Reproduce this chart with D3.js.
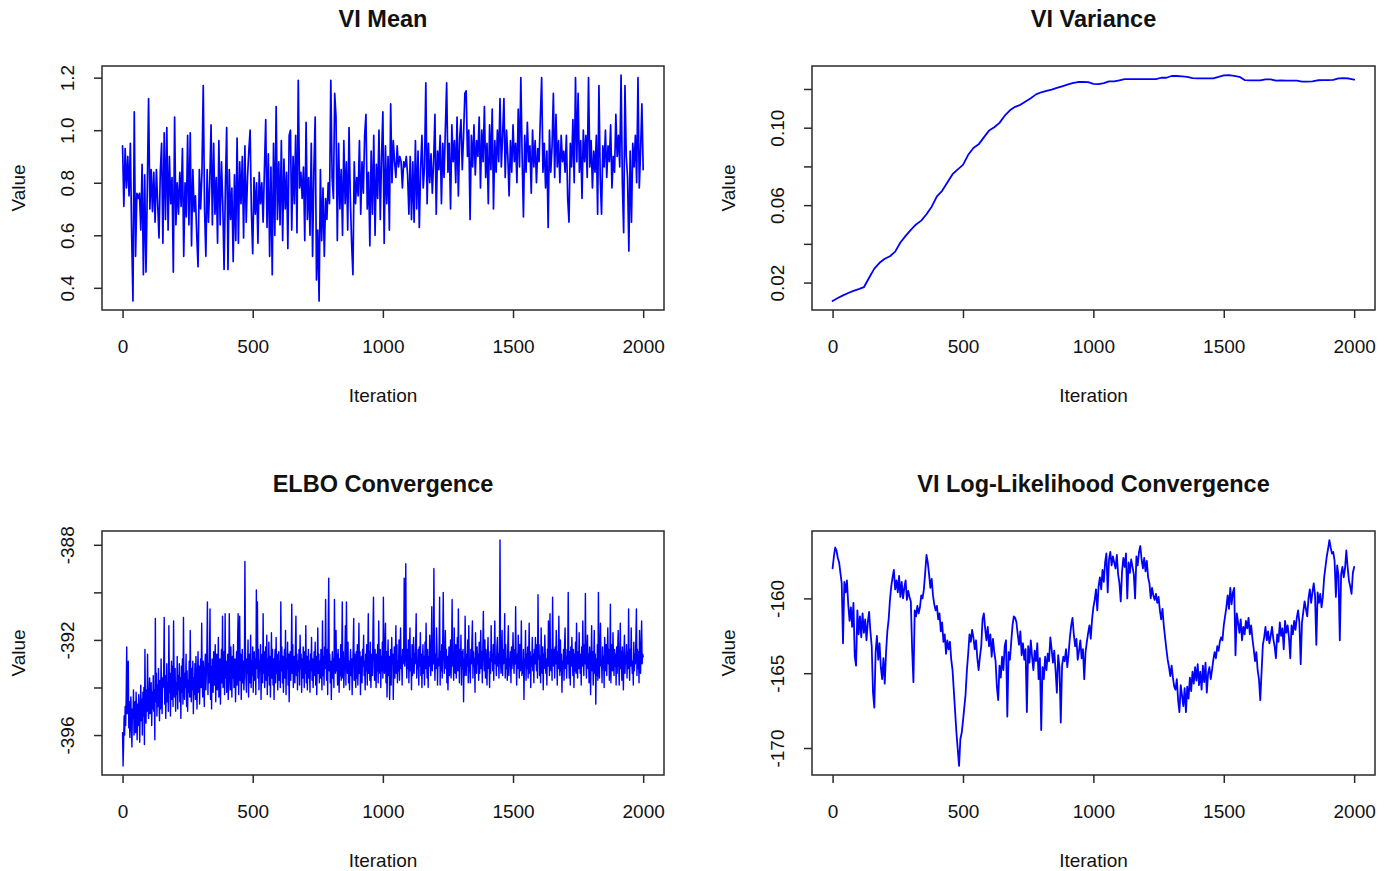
<!DOCTYPE html>
<html>
<head>
<meta charset="utf-8">
<script src="https://cdn.jsdelivr.net/npm/d3@7"></script>
<style>
  body { margin: 0; background: #fff; }
  text { font-family: "Liberation Sans", Arial, sans-serif; fill: #111; }
</style>
</head>
<body>
<svg id="chart" width="1384" height="871"></svg>
<script>
// ---------------- DATA ----------------
const xTickValues = [0, 500, 1000, 1500, 2000];
const meanStep = 5;       // iterations between stored samples
const varianceStep = 20;
const elboStep = 2;
const logLikStep = 5;

const viMean = [
  0.94,0.71,0.93,0.78,0.9,0.75,0.95,0.6,0.35,1.07,
  0.52,0.76,0.74,0.76,0.62,0.87,0.45,0.83,0.46,0.77,
  1.12,0.7,0.85,0.69,0.84,0.65,0.85,0.72,0.59,0.84,
  0.95,0.57,0.99,0.66,1.01,0.62,0.9,0.72,0.82,0.46,
  1.05,0.64,0.8,0.68,0.84,0.71,0.93,0.52,0.8,0.67,
  0.98,0.64,0.99,0.56,0.85,0.69,0.75,0.6,0.48,0.85,
  0.7,0.84,1.17,0.7,0.52,0.85,0.65,0.8,1.02,0.64,
  0.95,0.68,0.82,0.57,0.96,0.64,0.88,0.72,0.47,0.78,
  1.01,0.47,0.85,0.66,0.78,0.5,0.83,0.58,0.97,0.57,
  0.88,0.72,0.9,0.59,0.94,0.65,0.82,0.92,1.0,0.69,
  0.53,0.82,0.68,0.8,0.57,0.84,0.72,0.8,0.65,0.85,
  1.04,0.63,0.91,0.52,0.86,0.45,0.95,0.6,1.09,0.66,
  0.88,0.64,0.96,0.58,0.89,0.7,0.84,0.55,0.98,1.0,
  0.62,0.9,0.72,0.98,0.61,1.19,0.78,0.84,0.74,0.86,
  0.58,1.03,0.66,0.82,0.6,0.95,0.52,0.85,1.05,0.43,
  0.62,0.35,0.85,0.58,0.78,0.52,0.74,0.66,0.8,0.72,
  1.19,0.82,0.74,1.14,1.05,0.58,0.95,0.7,0.85,0.6,
  0.96,0.72,0.88,0.62,1.01,0.74,0.57,0.45,0.88,0.72,
  0.82,0.75,0.96,0.68,0.88,0.76,0.98,1.06,0.7,0.84,
  0.56,0.92,0.68,0.98,0.6,0.87,0.74,1.0,0.66,0.9,
  1.07,0.57,0.94,0.72,0.9,0.62,1.1,0.8,0.96,0.88,
  0.82,0.94,0.86,0.9,0.88,0.78,0.88,0.86,0.9,0.83,
  0.68,0.9,0.66,0.88,0.65,0.96,0.7,0.92,0.63,0.85,
  0.98,0.78,0.86,1.18,0.72,0.95,0.8,0.91,0.76,0.88,
  1.06,0.68,0.92,0.85,0.98,0.72,0.95,0.82,1.0,1.18,
  0.84,0.95,0.7,1.02,0.88,0.96,0.8,1.05,0.75,0.97,
  1.04,0.85,0.98,1.14,1.15,0.9,1.0,0.66,0.98,0.86,
  1.02,0.83,0.96,0.9,1.05,0.78,1.0,0.88,1.09,0.82,
  0.95,0.72,1.02,0.85,1.08,0.7,0.96,0.84,1.0,0.88,
  1.12,0.86,0.98,1.12,0.82,1.0,0.9,0.75,0.96,0.84,
  1.02,0.88,0.95,0.8,1.08,0.86,1.2,0.9,0.67,0.98,
  0.84,1.03,0.88,0.94,0.76,1.0,0.86,0.96,0.8,0.93,
  0.88,1.05,1.2,0.84,0.95,0.78,0.92,0.63,1.0,0.84,
  0.94,1.14,0.82,1.06,0.86,0.96,0.8,0.98,0.88,0.92,
  0.84,0.98,0.74,0.65,0.95,0.86,1.04,0.8,1.2,0.88,
  1.14,0.84,0.96,0.74,1.0,0.88,0.98,0.82,1.2,0.86,
  0.96,0.78,0.92,0.84,0.98,0.68,1.17,0.82,0.68,0.94,
  0.86,1.0,0.82,0.94,0.88,1.02,0.78,0.9,0.84,1.06,
  0.9,0.98,0.86,1.21,0.8,0.61,1.17,0.9,0.82,0.54,
  0.92,0.65,0.95,0.86,0.98,0.8,1.2,0.78,0.92,1.1,
  0.85
];

const viVariance = [
  0.0105,0.0120,0.0134,0.0146,0.0157,0.0166,0.0176,0.0225,0.0272,0.0302,
  0.0323,0.0336,0.0360,0.0407,0.0441,0.0472,0.0500,0.0520,0.0553,0.0592,
  0.0645,0.0674,0.0717,0.0760,0.0785,0.0808,0.0860,0.0895,0.0914,0.0950,
  0.0985,0.1002,0.1025,0.1062,0.1090,0.1108,0.1118,0.1135,0.1152,0.1172,
  0.1183,0.1190,0.1197,0.1206,0.1214,0.1222,0.1230,0.1236,0.1236,0.1235,
  0.1226,0.1225,0.1230,0.1239,0.1239,0.1245,0.1251,0.1251,0.1251,0.1251,
  0.1251,0.1251,0.1251,0.1258,0.1258,0.1267,0.1267,0.1265,0.1263,0.1256,
  0.1255,0.1255,0.1255,0.1255,0.1262,0.1270,0.1272,0.1268,0.1263,0.1246,
  0.1244,0.1244,0.1244,0.1250,0.1250,0.1243,0.1244,0.1243,0.1243,0.1243,
  0.1238,0.1238,0.1239,0.1245,0.1246,0.1246,0.1247,0.1255,0.1256,0.1254,
  0.1248
];

const elbo = [
  -395.9,-397.3,-396.4,-395.2,-396.0,-394.8,-395.6,-394.3,-392.3,-395.1,
  -394.5,-392.9,-395.7,-394.6,-396.1,-395.0,-394.4,-395.8,-396.5,-394.9,
  -395.3,-394.1,-396.0,-395.4,-394.6,-395.9,-394.2,-395.1,-396.2,-394.7,
  -395.6,-394.3,-395.0,-396.3,-394.8,-393.9,-395.4,-394.5,-396.0,-394.2,
  -395.2,-394.0,-396.4,-392.4,-394.9,-395.5,-394.1,-395.0,-392.6,-394.6,
  -395.3,-394.4,-393.6,-395.1,-394.7,-393.8,-395.6,-394.2,-394.9,-393.5,
  -395.0,-394.1,-396.2,-391.1,-394.6,-393.4,-395.2,-393.9,-394.8,-393.2,
  -394.5,-395.4,-393.7,-394.9,-392.8,-394.3,-395.1,-393.6,-394.0,-393.3,
  -391.05,-394.7,-393.5,-395.3,-394.1,-393.0,-394.6,-393.8,-395.0,-391.4,
  -394.2,-393.4,-395.2,-393.9,-392.9,-394.5,-393.1,-394.8,-391.2,-393.7,
  -394.4,-393.2,-395.0,-393.8,-394.3,-392.7,-394.9,-393.5,-394.1,-393.0,
  -394.6,-393.6,-395.3,-393.1,-394.2,-392.8,-394.7,-391.05,-393.9,-394.5,
  -393.4,-394.0,-392.6,-394.8,-393.3,-395.0,-393.7,-394.2,-392.9,-394.4,
  -391.6,-393.8,-394.6,-393.2,-394.1,-392.9,-395.1,-393.6,-394.3,-393.0,
  -394.5,-392.7,-393.9,-394.9,-393.4,-392.5,-394.2,-393.1,-394.7,-393.5,
  -392.8,-394.0,-391.3,-393.6,-394.4,-392.9,-393.7,-394.8,-393.2,-392.6,
  -394.1,-393.4,-392.4,-390.4,-394.3,-393.0,-393.8,-392.7,-390.7,-394.5,
  -393.1,-394.9,-392.8,-393.6,-394.2,-392.5,-393.9,-393.3,-392.2,-394.6,
  -393.0,-392.6,-394.1,-393.5,-391.9,-394.4,-393.2,-392.8,-394.7,-393.4,
  -392.4,-393.8,-391.0,-394.0,-393.1,-392.5,-394.3,-390.9,-393.6,-392.9,
  -394.2,-393.3,-392.6,-394.5,-393.7,-390.9,-393.0,-394.1,-392.3,-393.5,
  -394.4,-392.7,-393.6,-392.2,-394.0,-393.2,-392.8,-394.6,-393.4,-392.5,
  -393.9,-392.1,-390.9,-394.3,-393.0,-391.0,-393.7,-392.6,-394.5,-393.3,
  -392.4,-393.8,-392.9,-394.1,-393.5,-388.7,-392.3,-393.6,-394.2,-392.8,
  -393.4,-392.0,-394.4,-393.1,-392.6,-393.8,-391.8,-394.0,-392.9,-393.5,
  -392.3,-394.2,-393.0,-392.5,-393.7,-392.8,-394.3,-389.9,-393.2,-390.4,
  -393.6,-392.4,-394.1,-392.9,-393.3,-392.2,-394.5,-393.0,-392.6,-393.8,
  -390.9,-393.4,-392.5,-394.0,-393.1,-392.3,-393.7,-391.8,-394.3,-392.8,
  -393.5,-392.1,-393.9,-392.7,-394.4,-393.2,-391.7,-393.6,-392.4,-393.9,
  -392.8,-394.5,-393.0,-392.4,-393.8,-391.9,-393.4,-392.6,-394.1,-393.2,
  -392.5,-393.7,-392.9,-394.0,-390.4,-393.3,-392.3,-393.8,-392.7,-394.2,
  -393.0,-392.4,-393.6,-391.6,-394.3,-392.8,-393.2,-392.1,-393.9,-392.6,
  -394.6,-393.1,-392.5,-393.7,-392.9,-390.5,-393.4,-392.2,-394.0,-393.0,
  -392.7,-393.8,-392.3,-391.0,-393.5,-392.6,-394.1,-392.9,-393.3,-392.4,
  -393.9,-391.8,-393.2,-392.6,-394.2,-392.8,-393.6,-392.3,-393.0,-394.0,
  -392.5,-393.4,-391.4,-393.8,-392.7,-394.1,-393.1,-392.4,-393.6,-392.9,
  -394.2,-392.6,-393.3,-391.9,-393.7,-392.8,-394.0,-393.2,-392.5,-393.5,
  -392.1,-393.9,-392.7,-394.3,-393.0,-391.5,-393.4,-392.6,-393.8,-392.9,
  -393.6,-392.4,-393.1,-394.1,-391.2,-393.5,-392.7,-393.9,-392.3,-393.2,
  -390.3,-392.8,-393.7,-392.4,-394.3,-391.7,-389.4,-393.3,-392.6,-393.8,
  -392.9,-394.5,-393.2,-392.5,-393.6,-392.8,-394.0,-390.3,-392.7,-393.4,
  -391.6,-393.3,-392.6,-393.9,-392.4,-393.1,-394.2,-392.8,-393.5,-392.2,
  -393.7,-392.9,-390.4,-393.6,-392.5,-394.0,-393.2,-392.7,-391.4,-393.9,
  -390.4,-392.6,-393.4,-392.1,-393.8,-392.9,-394.1,-393.0,-392.4,-393.5,
  -392.8,-394.3,-393.1,-392.3,-391.1,-393.7,-392.6,-393.3,-394.0,-392.5,
  -393.6,-392.2,-393.9,-392.8,-391.3,-393.4,-392.5,-394.3,-393.0,-392.7,
  -393.8,-392.4,-393.1,-391.8,-393.5,-392.9,-394.1,-392.6,-393.3,-392.2,
  -393.9,-392.7,-390.9,-393.4,-392.5,-393.7,-392.1,-394.0,-393.2,-392.6,
  -393.5,-391.6,-390.2,-392.8,-393.7,-392.4,-393.1,-394.0,-392.6,-393.3,
  -392.2,-393.8,-391.2,-392.9,-393.4,-392.4,-394.0,-392.7,-393.3,-392.1,
  -393.6,-390.2,-392.6,-393.4,-392.3,-391.3,-393.8,-392.5,-394.4,-393.1,
  -392.0,-393.5,-392.7,-394.5,-393.2,-392.4,-393.9,-391.9,-393.0,-392.6,
  -394.5,-393.1,-392.3,-393.6,-392.8,-391.4,-393.4,-392.2,-393.8,-392.9,
  -393.3,-392.0,-393.7,-392.5,-391.5,-393.2,-392.7,-393.9,-392.4,-393.0,
  -392.6,-389.4,-393.1,-392.3,-388.8,-392.9,-393.6,-392.4,-393.2,-392.0,
  -393.8,-392.5,-391.5,-393.3,-392.8,-394.1,-392.2,-393.5,-392.7,-391.9,
  -393.4,-392.6,-393.0,-392.1,-390.9,-393.6,-392.8,-393.2,-392.4,-393.9,
  -392.3,-393.1,-391.7,-393.5,-392.6,-394.0,-392.9,-392.2,-393.4,-392.7,
  -393.9,-392.1,-393.2,-391.3,-392.8,-393.6,-392.4,-394.0,-392.7,-393.1,
  -391.8,-392.9,-393.5,-392.2,-390.6,-393.3,-392.6,-393.0,-389.0,-392.5,
  -393.7,-392.6,-393.2,-391.5,-392.4,-393.9,-392.8,-393.1,-392.3,-390.2,
  -393.9,-392.5,-393.3,-392.2,-393.6,-392.0,-390.0,-392.7,-393.4,-392.6,
  -391.6,-393.2,-392.4,-393.8,-392.7,-394.1,-393.0,-392.3,-393.5,-392.8,
  -392.0,-393.6,-392.5,-390.3,-393.1,-392.8,-393.7,-391.5,-392.9,-393.4,
  -392.2,-393.6,-392.9,-391.9,-393.3,-390.7,-392.6,-393.8,-392.4,-393.1,
  -391.8,-393.9,-392.5,-393.2,-392.4,-394.6,-392.8,-393.5,-391.0,-392.7,
  -393.5,-392.6,-393.1,-392.0,-393.8,-391.4,-392.9,-393.3,-393.8,-392.4,
  -393.0,-392.1,-391.2,-393.6,-392.5,-393.1,-392.8,-394.2,-391.7,-392.9,
  -393.4,-392.3,-393.0,-392.6,-393.7,-392.1,-393.4,-392.8,-391.6,-393.2,
  -392.5,-393.8,-392.3,-390.8,-392.7,-393.3,-392.0,-393.6,-392.4,-393.1,
  -393.9,-392.6,-391.9,-393.2,-392.8,-394.0,-392.5,-393.4,-391.4,-392.9,
  -392.6,-393.3,-392.2,-393.7,-392.4,-391.2,-393.0,-392.7,-393.5,-392.3,
  -391.9,-393.1,-392.6,-393.6,-392.2,-387.8,-392.9,-393.4,-392.5,-391.6,
  -393.5,-392.4,-393.0,-392.7,-390.9,-393.6,-392.2,-393.2,-392.8,-393.7,
  -392.2,-391.4,-393.5,-392.8,-393.1,-392.5,-393.8,-392.3,-393.2,-392.7,
  -391.7,-392.9,-393.4,-392.4,-393.0,-390.6,-392.7,-393.9,-392.6,-393.2,
  -391.8,-392.5,-393.6,-392.2,-393.3,-392.8,-391.2,-393.5,-392.9,-393.4,
  -392.4,-394.5,-392.8,-393.1,-391.6,-393.7,-392.6,-393.2,-392.3,-393.6,
  -392.8,-391.3,-393.4,-392.5,-394.0,-392.7,-393.1,-391.9,-393.3,-392.6,
  -393.8,-392.4,-393.0,-391.9,-392.7,-393.3,-392.2,-393.6,-390.1,-392.8,
  -392.2,-393.5,-392.7,-393.8,-391.5,-392.9,-393.4,-392.3,-394.1,-392.6,
  -393.2,-391.8,-392.6,-393.4,-392.8,-393.9,-392.4,-393.1,-391.2,-392.7,
  -393.5,-390.9,-392.8,-393.3,-392.4,-393.7,-390.2,-392.6,-393.1,-392.4,
  -393.6,-392.3,-393.0,-391.6,-392.7,-393.9,-392.5,-393.2,-391.0,-392.8,
  -393.5,-392.0,-393.3,-392.6,-394.2,-392.9,-393.1,-392.4,-393.7,-392.2,
  -391.5,-393.2,-392.7,-393.6,-392.4,-393.0,-390.0,-392.7,-393.6,-392.5,
  -393.9,-392.3,-393.1,-391.9,-392.8,-393.5,-392.4,-394.0,-392.6,-393.3,
  -392.1,-393.4,-391.3,-392.9,-393.6,-392.5,-393.2,-391.7,-392.8,-393.4,
  -392.6,-393.9,-392.3,-393.1,-391.2,-392.7,-393.5,-392.2,-393.0,-390.05,
  -392.8,-393.6,-392.4,-391.8,-393.2,-392.6,-393.8,-392.3,-392.9,-394.3,
  -392.7,-391.4,-393.3,-392.5,-393.9,-392.9,-391.6,-393.4,-392.6,-394.7,
  -392.8,-393.5,-392.2,-393.7,-390.0,-392.5,-393.6,-392.4,-391.3,-393.1,
  -392.8,-393.8,-392.3,-393.2,-392.7,-394.0,-391.9,-392.6,-393.3,-392.2,
  -393.5,-392.6,-391.5,-393.0,-392.4,-393.7,-392.9,-390.5,-393.8,-392.5,
  -392.2,-393.3,-391.7,-392.8,-393.5,-392.4,-393.1,-392.6,-393.9,-392.3,
  -393.4,-392.4,-391.6,-393.0,-393.9,-392.8,-391.3,-393.2,-392.5,-393.7,
  -392.3,-393.1,-394.1,-392.6,-391.8,-393.4,-392.7,-393.0,-392.2,-393.6,
  -392.5,-393.2,-390.7,-392.9,-393.7,-392.4,-393.1,-391.5,-392.8,-393.4,
  -392.9,-393.9,-392.1,-393.3,-392.6,-393.0,-391.9,-390.7,-393.5,-392.4,
  -393.2,-392.5,-393.8,-391.6,-392.7,-393.4,-392.3,-391.2,-393.0,-392.6,
  -392.7
];

const logLik = [
  -158.0,-157.2,-156.6,-156.8,-157.3,-157.6,-158.3,-159.0,-163.0,-158.9,
  -159.6,-158.8,-160.4,-161.5,-160.6,-161.9,-160.3,-163.9,-164.5,-160.8,
  -162.4,-161.2,-162.6,-161.0,-162.3,-161.4,-162.8,-161.6,-160.9,-162.2,
  -163.2,-166.3,-167.3,-163.6,-162.5,-164.1,-163.0,-164.6,-165.4,-164.0,
  -165.7,-163.6,-162.2,-161.4,-160.1,-159.2,-158.6,-158.1,-159.4,-158.8,
  -159.6,-158.5,-159.9,-158.9,-160.0,-159.3,-158.8,-160.1,-159.5,-159.9,
  -160.2,-163.4,-165.6,-160.8,-161.2,-160.5,-161.0,-160.6,-159.8,-160.0,
  -159.4,-158.3,-157.1,-157.6,-158.4,-159.3,-158.7,-159.8,-160.4,-160.8,
  -160.5,-161.4,-161.0,-162.2,-161.6,-162.9,-162.4,-163.7,-162.8,-163.4,
  -162.9,-164.1,-164.8,-166.2,-167.6,-169.0,-170.1,-171.2,-169.4,-169.0,
  -168.2,-167.3,-166.4,-164.8,-163.7,-162.4,-162.9,-162.1,-162.6,-163.4,
  -162.8,-164.0,-164.8,-163.9,-163.2,-161.4,-161.0,-162.0,-162.8,-161.9,
  -163.2,-162.4,-163.9,-162.7,-163.6,-164.2,-165.9,-166.8,-164.5,-165.3,
  -163.9,-164.8,-163.2,-162.8,-167.9,-163.6,-164.1,-162.9,-161.8,-161.2,
  -161.3,-161.6,-162.4,-163.1,-162.2,-163.8,-163.0,-164.1,-163.4,-167.6,
  -163.2,-164.3,-162.8,-163.9,-164.8,-163.5,-164.2,-163.0,-165.4,-164.0,
  -168.8,-164.6,-165.4,-163.9,-164.8,-163.7,-164.2,-162.6,-163.4,-164.3,
  -163.5,-164.8,-166.3,-163.8,-164.6,-168.3,-164.5,-163.9,-164.2,-163.4,
  -164.6,-163.7,-162.6,-161.8,-161.3,-162.4,-163.2,-162.7,-164.1,-163.5,
  -162.8,-164.0,-163.4,-165.4,-163.6,-162.9,-162.3,-161.8,-162.7,-161.4,
  -160.6,-160.1,-159.4,-160.8,-159.2,-158.6,-159.4,-158.1,-158.9,-157.6,
  -157.0,-159.6,-157.4,-156.9,-157.8,-157.2,-157.6,-158.0,-157.1,-158.4,
  -159.0,-160.2,-158.2,-157.3,-157.9,-157.0,-160.0,-157.6,-158.3,-157.4,
  -157.9,-158.4,-160.0,-157.2,-157.8,-156.9,-156.5,-157.4,-158.0,-157.3,
  -158.2,-157.5,-158.6,-159.0,-160.0,-159.3,-159.8,-160.1,-159.7,-160.3,
  -159.9,-160.8,-161.4,-160.7,-161.8,-162.6,-163.4,-164.1,-164.6,-165.2,
  -164.5,-165.3,-165.9,-166.1,-165.4,-166.8,-167.6,-165.8,-166.5,-167.2,
  -166.0,-167.6,-165.9,-166.7,-165.3,-166.2,-164.9,-165.7,-164.6,-165.5,
  -164.4,-165.8,-164.9,-166.1,-164.5,-165.6,-164.3,-166.3,-165.0,-164.6,
  -165.4,-164.8,-164.1,-163.6,-164.0,-163.2,-163.5,-162.9,-162.6,-162.8,
  -161.8,-161.2,-160.6,-159.8,-160.7,-159.3,-160.4,-159.6,-159.3,-163.8,
  -161.0,-161.6,-162.3,-161.4,-162.8,-161.9,-162.4,-161.5,-162.0,-161.3,
  -162.4,-161.8,-162.7,-163.4,-164.2,-163.6,-164.8,-165.4,-166.8,-164.9,
  -163.1,-162.6,-161.9,-162.8,-162.2,-163.0,-162.5,-161.9,-162.7,-163.2,
  -164.0,-162.4,-162.9,-161.6,-162.5,-162.0,-163.4,-161.5,-162.3,-161.8,
  -162.6,-164.0,-161.8,-162.4,-161.5,-162.1,-161.3,-160.8,-161.6,-164.4,
  -161.6,-160.9,-160.2,-160.7,-161.2,-160.0,-159.4,-160.3,-159.6,-159.0,
  -159.8,-163.1,-159.6,-160.3,-159.7,-160.6,-159.9,-158.6,-157.9,-157.2,
  -156.7,-156.1,-156.6,-157.0,-156.9,-157.5,-159.9,-157.8,-158.5,-162.8,
  -158.4,-157.9,-158.6,-158.0,-156.8,-157.9,-158.8,-159.2,-159.7,-158.3,
  -157.9
];

const meanTicks = [0.4, 0.6, 0.8, 1.0, 1.2];
const meanTickLabels = ["0.4", "0.6", "0.8", "1.0", "1.2"];
const varTicks = [0.02, 0.04, 0.06, 0.08, 0.10, 0.12];
const varTickLabels = ["0.02", "", "0.06", "", "0.10", ""];
const elboTicks = [-396, -394, -392, -390, -388];
const elboTickLabels = ["-396", "", "-392", "", "-388"];
const llTicks = [-170, -165, -160];
const llTickLabels = ["-170", "-165", "-160"];

// ---------------- DRAWING ----------------
const svg = d3.select("#chart");
const LINE = "#0000ff";

const panels = [
  { title: "VI Mean", values: viMean, step: meanStep,
    box: { x0: 102, x1: 664, y0: 66, y1: 310 },
    yTicks: meanTicks, yLabels: meanTickLabels, lw: 1.7 },
  { title: "VI Variance", values: viVariance, step: varianceStep,
    box: { x0: 812, x1: 1375, y0: 66, y1: 310 },
    yTicks: varTicks, yLabels: varTickLabels, lw: 1.8 },
  { title: "ELBO Convergence", values: elbo, step: elboStep,
    box: { x0: 102, x1: 664, y0: 531, y1: 775 },
    yTicks: elboTicks, yLabels: elboTickLabels, lw: 1.4 },
  { title: "VI Log-Likelihood Convergence", values: logLik, step: logLikStep,
    box: { x0: 812, x1: 1375, y0: 531, y1: 775 },
    yTicks: llTicks, yLabels: llTickLabels, lw: 1.8 }
];

function rPad(ext) {
  const r = ext[1] - ext[0];
  return [ext[0] - 0.04 * r, ext[1] + 0.04 * r];
}

panels.forEach((p, k) => {
  const b = p.box;
  const g = svg.append("g");
  const x = d3.scaleLinear().domain(rPad([1, 2000])).range([b.x0, b.x1]);
  const y = d3.scaleLinear().domain(rPad(d3.extent(p.values))).range([b.y1, b.y0]);

  const clipId = "clip" + k;
  svg.append("clipPath").attr("id", clipId)
    .append("rect").attr("x", b.x0).attr("y", b.y0)
    .attr("width", b.x1 - b.x0).attr("height", b.y1 - b.y0);

  const line = d3.line()
    .x((d, i) => x(i * p.step))
    .y(d => y(d));

  g.append("path")
    .datum(p.values)
    .attr("clip-path", `url(#${clipId})`)
    .attr("fill", "none")
    .attr("stroke", LINE)
    .attr("stroke-width", p.lw)
    .attr("stroke-linejoin", "round")
    .attr("stroke-linecap", "round")
    .attr("d", line);

  // box
  g.append("rect")
    .attr("x", b.x0).attr("y", b.y0)
    .attr("width", b.x1 - b.x0).attr("height", b.y1 - b.y0)
    .attr("fill", "none").attr("stroke", "#2a2a2a").attr("stroke-width", 1.5);

  // x axis
  const xa = g.append("g")
    .attr("transform", `translate(0,${b.y1})`)
    .call(d3.axisBottom(x).tickValues(xTickValues).tickSize(8).tickPadding(22)
      .tickFormat(d3.format("d")));
  xa.select(".domain").remove();
  xa.selectAll("line").attr("stroke", "#2a2a2a").attr("stroke-width", 1.5);
  xa.selectAll("text").attr("font-size", 19).attr("fill", "#111")
    .attr("font-family", '"Liberation Sans", Arial, sans-serif');

  // y axis
  const ya = g.append("g")
    .attr("transform", `translate(${b.x0},0)`)
    .call(d3.axisLeft(y).tickValues(p.yTicks).tickSize(8)
      .tickFormat((d, i) => p.yLabels[i]));
  ya.select(".domain").remove();
  ya.selectAll("line").attr("stroke", "#2a2a2a").attr("stroke-width", 1.5);
  ya.selectAll("text")
    .attr("x", null).attr("dy", null)
    .attr("transform", "translate(-28,0) rotate(-90)")
    .attr("text-anchor", "middle")
    .attr("font-size", 19).attr("fill", "#111")
    .attr("font-family", '"Liberation Sans", Arial, sans-serif');

  const cx = (b.x0 + b.x1) / 2;
  const cy = (b.y0 + b.y1) / 2;

  g.append("text")
    .attr("x", cx).attr("y", b.y0 - 39)
    .attr("text-anchor", "middle")
    .attr("font-size", 23.5).attr("font-weight", "bold")
    .text(p.title);

  g.append("text")
    .attr("x", cx).attr("y", b.y1 + 92)
    .attr("text-anchor", "middle")
    .attr("font-size", 19)
    .text("Iteration");

  g.append("text")
    .attr("transform", `translate(${b.x0 - 77},${cy}) rotate(-90)`)
    .attr("text-anchor", "middle")
    .attr("font-size", 19)
    .text("Value");
});
</script>
</body>
</html>
